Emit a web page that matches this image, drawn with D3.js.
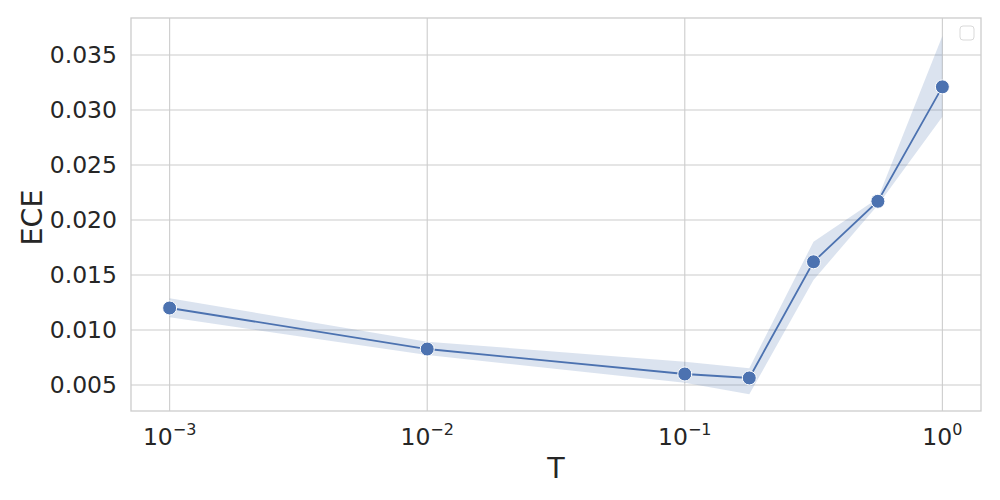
<!DOCTYPE html>
<html>
<head>
<meta charset="utf-8">
<script src="https://cdn.jsdelivr.net/npm/d3@7"></script>
<style>
  body { margin: 0; background: #fff; }
  text { font-family: "DejaVu Sans", sans-serif; fill: #262626; }
</style>
</head>
<body>
<script>
// temperature values and ECE (mean, band low, band high)
var temps = [0.001, 0.01, 0.1, 0.178, 0.316, 0.562, 1.0];
var ece = [0.0120, 0.00827, 0.0060, 0.00564, 0.0162, 0.0217, 0.0321];
var eceLow = [0.01115, 0.00773, 0.0052, 0.00415, 0.01455, 0.02136, 0.02939];
var eceHigh = [0.01288, 0.00894, 0.00712, 0.00652, 0.01803, 0.02197, 0.03673];
var yTicks = [0.005, 0.010, 0.015, 0.020, 0.025, 0.030, 0.035];
var xTicks = [0.001, 0.01, 0.1, 1];
var xTickExp = ["\u22123", "\u22122", "\u22121", "0"];

var width = 1000, height = 500;
var pLeft = 131, pRight = 981, pTop = 18, pBottom = 411;
var color = "#4c72b0";

var svg = d3.select("body").append("svg")
    .attr("width", width)
    .attr("height", height);

var x = d3.scaleLog().domain([Math.pow(10, -3.15), Math.pow(10, 0.15)]).range([pLeft, pRight]);
var y = d3.scaleLinear().domain([0.002636, 0.03836]).range([pBottom, pTop]);

// grid
svg.append("g").selectAll("line").data(xTicks).enter().append("line")
    .attr("x1", function(d){ return x(d); }).attr("x2", function(d){ return x(d); })
    .attr("y1", pTop).attr("y2", pBottom)
    .attr("stroke", "#cccccc").attr("stroke-width", 1.1);
svg.append("g").selectAll("line").data(yTicks).enter().append("line")
    .attr("y1", function(d){ return y(d); }).attr("y2", function(d){ return y(d); })
    .attr("x1", pLeft).attr("x2", pRight)
    .attr("stroke", "#cccccc").attr("stroke-width", 1.1);

// spines
svg.append("rect")
    .attr("x", pLeft).attr("y", pTop)
    .attr("width", pRight - pLeft).attr("height", pBottom - pTop)
    .attr("fill", "none").attr("stroke", "#cccccc").attr("stroke-width", 1.3);

var data = temps.map(function(t, i){
    return {t: t, v: ece[i], lo: eceLow[i], hi: eceHigh[i]};
});

// confidence band
var area = d3.area()
    .x(function(d){ return x(d.t); })
    .y0(function(d){ return y(d.lo); })
    .y1(function(d){ return y(d.hi); });
svg.append("path").datum(data)
    .attr("d", area)
    .attr("fill", color).attr("fill-opacity", 0.2).attr("stroke", "none");

// line
var line = d3.line()
    .x(function(d){ return x(d.t); })
    .y(function(d){ return y(d.v); });
svg.append("path").datum(data)
    .attr("d", line)
    .attr("fill", "none").attr("stroke", color).attr("stroke-width", 1.8);

// markers
svg.append("g").selectAll("circle").data(data).enter().append("circle")
    .attr("cx", function(d){ return x(d.t); })
    .attr("cy", function(d){ return y(d.v); })
    .attr("r", 7)
    .attr("fill", color).attr("stroke", "#ffffff").attr("stroke-width", 1);

// y tick labels
svg.append("g").selectAll("text").data(yTicks).enter().append("text")
    .attr("x", pLeft - 14)
    .attr("y", function(d){ return y(d); })
    .attr("dy", "0.36em")
    .attr("text-anchor", "end")
    .attr("font-size", 23.5)
    .text(function(d){ return d3.format(".3f")(d); });

// x tick labels, 10^n
var xl = svg.append("g").selectAll("text").data(xTicks).enter().append("text")
    .attr("x", function(d){ return x(d); })
    .attr("y", 445)
    .attr("text-anchor", "middle")
    .attr("font-size", 23.5);
xl.append("tspan").text("10");
xl.append("tspan")
    .attr("dy", -10).attr("font-size", 16)
    .text(function(d, i){ return xTickExp[i]; });

// axis labels
svg.append("text")
    .attr("x", (pLeft + pRight) / 2).attr("y", 478)
    .attr("text-anchor", "middle")
    .attr("font-size", 28.5)
    .text("T");
svg.append("text")
    .attr("transform", "translate(42," + ((pTop + pBottom) / 2 + 3) + ") rotate(-90)")
    .attr("text-anchor", "middle")
    .attr("font-size", 28.5)
    .text("ECE");

// empty legend box
svg.append("rect")
    .attr("x", 960).attr("y", 26)
    .attr("width", 14).attr("height", 14)
    .attr("rx", 3)
    .attr("fill", "#ffffff").attr("stroke", "#d9d9d9").attr("stroke-width", 1);
</script>
</body>
</html>
